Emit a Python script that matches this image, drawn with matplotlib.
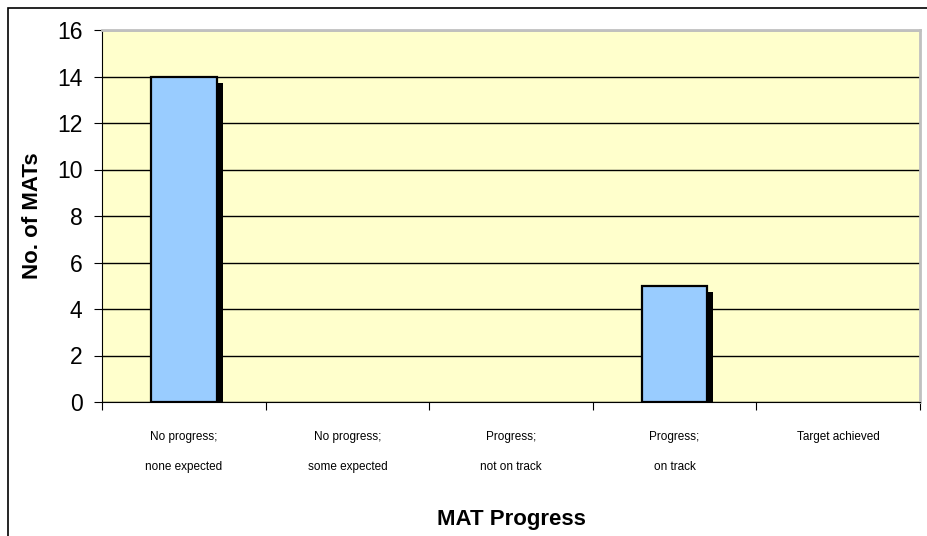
import matplotlib.pyplot as plt
from matplotlib.patches import Rectangle
import numpy as np

plt.rcParams['font.family'] = ['Liberation Sans', 'DejaVu Sans']

categories = ['No progress;\n\nnone expected', 'No progress;\n\nsome expected',
              'Progress;\n\nnot on track', 'Progress;\n\non track', 'Target achieved']
counts = [14, 0, 0, 5, 0]
yticks = [0, 2, 4, 6, 8, 10, 12, 14, 16]

W, H = 927, 536
fig = plt.figure(figsize=(W / 100, H / 100), dpi=100)
ax = fig.add_axes([102 / W, 1 - 402 / H, (920 - 102) / W, (402 - 30) / H])
ax.set_facecolor('#FFFFCC')

x = np.arange(len(categories))
bw = 0.4
# shadow offset in data units
dx = 6 / ((920 - 102) / 5)
dy = 6 / ((402 - 30) / 16)
for xi, v in zip(x, counts):
    if v > 0:
        ax.bar(xi + dx, v - dy, width=bw, color='black', zorder=2)
        ax.bar(xi, v, width=bw, color='#99CCFF', edgecolor='black', linewidth=1.6, zorder=3)

ax.set_xlim(-0.5, 4.5)
ax.set_ylim(0, 16)
ax.set_yticks(yticks)
ax.set_yticklabels([str(t) for t in yticks], fontsize=16.5)
ax.yaxis.grid(True, color='black', linewidth=1)
ax.set_axisbelow(True)

ax.set_xticks(np.arange(-0.5, 5, 1))
ax.set_xticklabels([])
ax.set_xticks(x, minor=True)
ax.set_xticklabels(categories, minor=True, fontsize=8.5, linespacing=1.3)
ax.tick_params(axis='x', which='minor', length=0, pad=21)
ax.tick_params(axis='x', which='major', length=6, color='black')
ax.tick_params(axis='y', length=6, pad=8)

for s in ['top', 'right']:
    ax.spines[s].set_color('#C0C0C0')
    ax.spines[s].set_linewidth(2)
ax.spines['left'].set_color('black')
ax.spines['bottom'].set_color('black')

ax.set_ylabel('No. of MATs', fontsize=16, fontweight='bold', labelpad=10)
ax.set_xlabel('MAT Progress', fontsize=16, fontweight='bold', va='center')
ax.xaxis.set_label_coords(0.5, (402 - 520) / (402 - 30))

fig.patches.append(Rectangle((8 / W, -0.1), 1.2, 1 - 8 / H + 0.1, transform=fig.transFigure,
                             fill=False, edgecolor='black', linewidth=1.2))

fig.savefig('out.png', dpi=100)
